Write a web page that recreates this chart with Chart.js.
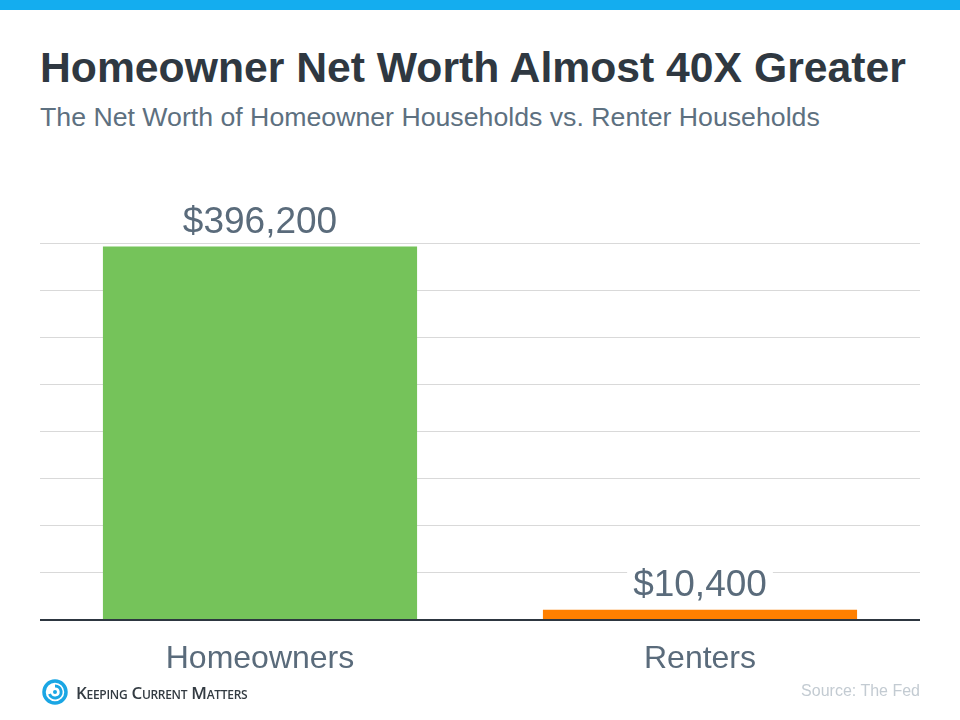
<!DOCTYPE html>
<html lang="en">
<head>
    <meta charset="UTF-8">
    <title>Homeowner Net Worth</title>
    <script src="https://cdn.jsdelivr.net/npm/chart.js"></script>
    <style>
        body { margin: 0; background: #fff; font-family: "Liberation Sans", Arial, sans-serif; }
        .pagina { position: relative; width: 960px; height: 720px; overflow: hidden; }
        .faixa { position: absolute; left: 0; top: 0; width: 960px; height: 10px; background: #14adef; }
        .titulo { position: absolute; left: 40px; top: 42px; margin: 0; font-size: 42.7px; font-weight: bold; color: #2f3841; line-height: 50px; }
        .subtitulo { position: absolute; left: 40px; top: 101px; margin: 0; font-size: 26.7px; color: #5d7080; line-height: 32px; }
        .grafico { position: absolute; left: 40px; top: 180px; width: 880px; height: 520px; }
        .logo { position: absolute; left: 42px; top: 679px; height: 26px; display: flex; align-items: center; }
        .logo span { margin-left: 8px; font-family: "Open Sans", sans-serif; font-weight: 600; font-size: 17px; font-variant: small-caps; color: #333b42; letter-spacing: -0.3px; }
        .fonte { position: absolute; right: 40px; top: 682px; font-size: 16px; color: #c3cbd2; }
    </style>
</head>
<body>
    <div class="pagina">
        <div class="faixa"></div>
        <h1 class="titulo">Homeowner Net Worth Almost 40X Greater</h1>
        <p class="subtitulo">The Net Worth of Homeowner Households vs. Renter Households</p>
        <div class="grafico"><canvas id="graficoBarras"></canvas></div>
        <div class="logo">
            <svg width="26" height="26" viewBox="0 0 26 26">
                <circle cx="13" cy="13" r="11" fill="none" stroke="#1aa6e4" stroke-width="3.5"/>
                <path d="M13 7 A6 6 0 1 1 7.5 15" fill="none" stroke="#1aa6e4" stroke-width="3"/>
                <circle cx="13" cy="13" r="2" fill="#1aa6e4"/>
            </svg>
            <span>Keeping Current Matters</span>
        </div>
        <div class="fonte">Source: The Fed</div>
    </div>

    <script>
        // dados
        const categorias = ["Homeowners", "Renters"];
        const valores = [396200, 10400];
        const rotulos = ["$396,200", "$10,400"];
        const cores = ["#75c35a", "#ff8000"];
        const eixoMax = 400000;
        const eixoPasso = 50000;

        // rótulo em cima de cada barra, com fundo branco
        const rotuloBarras = {
            id: 'rotuloBarras',
            afterDatasetsDraw(chart) {
                const ctx = chart.ctx;
                const meta = chart.getDatasetMeta(0);
                ctx.save();
                ctx.font = '37px "Liberation Sans", Arial, sans-serif';
                ctx.textAlign = 'center';
                ctx.textBaseline = 'middle';
                meta.data.forEach((barra, i) => {
                    const texto = rotulos[i];
                    const y = barra.y - 24;
                    const w = ctx.measureText(texto).width;
                    ctx.fillStyle = '#ffffff';
                    ctx.fillRect(barra.x - w / 2 - 6, y - 20, w + 12, 38);
                    ctx.fillStyle = '#5a6b7b';
                    ctx.fillText(texto, barra.x, y);
                });
                ctx.restore();
            }
        };

        new Chart(document.getElementById('graficoBarras'), {
            type: 'bar',
            data: {
                labels: categorias,
                datasets: [{
                    data: valores,
                    backgroundColor: cores,
                    barPercentage: 0.714,
                    categoryPercentage: 1
                }]
            },
            options: {
                responsive: true,
                maintainAspectRatio: false,
                animation: false,
                layout: { padding: { top: 63, bottom: 2, left: 0, right: 0 } },
                plugins: {
                    legend: { display: false },
                    tooltip: { enabled: false }
                },
                scales: {
                    x: {
                        grid: { display: false, drawTicks: false },
                        border: { display: true, color: '#2d3640', width: 2, z: 1 },
                        ticks: {
                            color: '#5a6b7b',
                            padding: 20,
                            font: { family: '"Liberation Sans", Arial, sans-serif', size: 32 }
                        }
                    },
                    y: {
                        min: 0,
                        max: eixoMax,
                        ticks: { display: false, stepSize: eixoPasso },
                        grid: { color: '#d9d9d9', drawTicks: false },
                        border: { display: false }
                    }
                }
            },
            plugins: [rotuloBarras]
        });
    </script>
</body>
</html>
